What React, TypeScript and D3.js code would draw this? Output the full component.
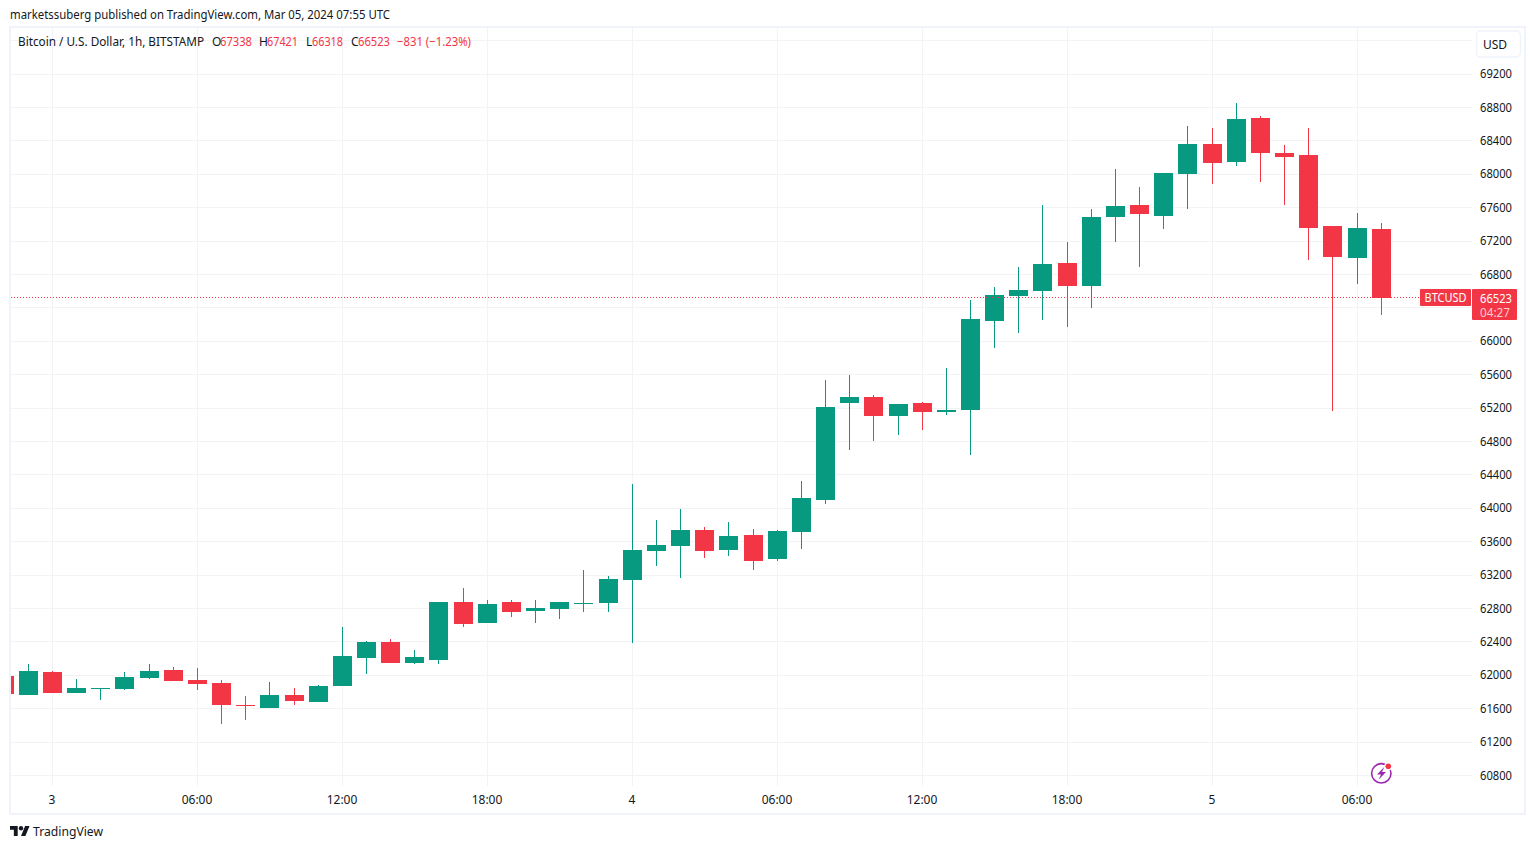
import React from "react";
import * as d3 from "d3";

// Hour index relative to 2024-03-03 00:00, one row per candle
const hours = d3.range(-2, 56);
const opens = [61990,61763,62038,61787,61835,61835,61967,62062,61942,61906,61643,61607,61763,61679,61870,62206,62398,62146,62182,62876,62625,62876,62768,62792,62852,62864,63140,63487,63547,63738,63499,63679,63391,63714,64098,65260,65332,65104,65260,65152,65176,66242,66541,66601,66936,66661,67487,67631,67499,68002,68362,68146,68673,68254,68230,67380,66996,67338];
const closes = [61775,62050,61787,61847,61847,61979,62050,61930,61894,61643,61631,61763,61691,61870,62230,62398,62146,62218,62876,62613,62852,62756,62804,62876,62864,63152,63499,63559,63738,63487,63667,63367,63726,64122,65212,65332,65104,65248,65152,65176,66266,66553,66613,66924,66661,67487,67619,67523,68014,68362,68134,68661,68254,68206,67356,67008,67356,66523];
const highs = [61990,62134,62050,61955,61847,62038,62134,62098,62086,61942,61751,61918,61847,61882,62577,62410,62434,62302,62876,63044,62900,62900,62900,62876,63260,63188,64290,63858,63990,63774,63834,63751,63738,64325,65535,65595,65356,65248,65272,65679,66493,66649,66889,67631,67188,67583,68062,67847,68014,68578,68554,68853,68697,68350,68554,67380,67536,67421];
const lows = [61775,61763,61787,61787,61703,61823,61955,61930,61823,61415,61463,61607,61643,61679,61870,62014,62146,62134,62134,62577,62625,62696,62625,62672,62756,62756,62385,63308,63164,63403,63427,63260,63367,63511,64050,64697,64805,64877,64937,65116,64637,65919,66098,66254,66170,66398,67188,66889,67344,67583,67883,68098,67906,67631,66972,65164,66685,66318];

const priceTicks = [69600,69200,68800,68400,68000,67600,67200,66800,66400,66000,65600,65200,64800,64400,64000,63600,63200,62800,62400,62000,61600,61200,60800];
const hiddenPriceLabels = [69600, 66400];
const timeHours = [0,6,12,18,24,30,36,42,48,54];
const timeLabels = ["3","06:00","12:00","18:00","4","06:00","12:00","18:00","5","06:00"];

const lastPrice = 66523;
const GREEN = "#089981";
const RED = "#F23645";
const INK = "#131722";
const GRID = "#f2f3f5";
const BORDER = "#f0f3fa";
const FONT = "'Noto Sans', sans-serif";

const W = 1534, H = 849;
const y = d3.scaleLinear().domain([60800, 69200]).range([775.5, 74]);
const x = d3.scaleLinear().domain([0, 1]).range([52.405, 76.565]);
const px = (h: number) => Math.floor(x(h));
const py = (p: number) => Math.round(y(p));

const T = (p: any) => <text fontFamily={FONT} fontSize={12} fill={INK} lengthAdjust="spacingAndGlyphs" {...p} />;

export default function App() {
  return (
    <svg width={W} height={H} viewBox={`0 0 ${W} ${H}`} style={{ position: "absolute", left: 0, top: 0, background: "#fff", display: "block" }}>
      <defs>
        <clipPath id="pane"><rect x={11} y={28} width={1461} height={758} /></clipPath>
      </defs>

      <T x={10} y={19} textLength={380}>marketssuberg published on TradingView.com, Mar 05, 2024 07:55 UTC</T>

      <g shapeRendering="crispEdges">
        {priceTicks.map((p) => (
          <rect key={p} x={11} y={Math.floor(y(p))} width={1461} height={1} fill={GRID} />
        ))}
        {timeHours.map((h) => (
          <rect key={h} x={px(h)} y={28} width={1} height={758} fill={GRID} />
        ))}
      </g>

      <g clipPath="url(#pane)" shapeRendering="crispEdges">
        {hours.map((h, i) => {
          const up = closes[i] >= opens[i];
          const c = up ? GREEN : RED;
          const top = py(Math.max(opens[i], closes[i]));
          const bot = py(Math.min(opens[i], closes[i]));
          const hi = py(highs[i]);
          const lo = py(lows[i]);
          return (
            <g key={h} fill={c}>
              <rect x={px(h)} y={hi} width={1} height={Math.max(lo - hi, 1)} />
              <rect x={px(h) - 9} y={top} width={19} height={Math.max(bot - top, 1)} />
            </g>
          );
        })}
      </g>

      <line x1={11} x2={1420} y1={Math.floor(y(lastPrice)) + 0.5} y2={Math.floor(y(lastPrice)) + 0.5} stroke={RED} strokeWidth={1} strokeDasharray="1 2" />

      <rect x={10} y={27} width={1515} height={787} fill="none" stroke={BORDER} strokeWidth={2} />

      <T x={18} y={46} textLength={186}>Bitcoin / U.S. Dollar, 1h, BITSTAMP</T>
      <T x={212} y={46}>O</T>
      <T x={220} y={46} fill={RED} textLength={32}>67338</T>
      <T x={259} y={46}>H</T>
      <T x={267} y={46} fill={RED} textLength={31}>67421</T>
      <T x={306} y={46}>L</T>
      <T x={312} y={46} fill={RED} textLength={31}>66318</T>
      <T x={351} y={46}>C</T>
      <T x={358} y={46} fill={RED} textLength={32}>66523</T>
      <T x={397} y={46} fill={RED} textLength={74}>−831 (−1.23%)</T>

      <rect x={1476.5} y={31} width={44} height={26} rx={4} fill="#fff" stroke={BORDER} strokeWidth={1.5} />
      <T x={1495} y={49} textAnchor="middle" fontSize={12}>USD</T>

      {priceTicks.filter((p) => !hiddenPriceLabels.includes(p)).map((p) => (
        <T key={p} x={1480} y={y(p) + 4.2} textLength={32}>{p}</T>
      ))}

      {timeHours.map((h, i) => (
        <T key={h} x={px(h)} y={804} textAnchor="middle">{timeLabels[i]}</T>
      ))}

      <rect x={1420} y={289} width={51} height={17} rx={1} fill={RED} />
      <T x={1445.5} y={302} textAnchor="middle" fill="#fff" textLength={42}>BTCUSD</T>
      <rect x={1472} y={289} width={45} height={31} rx={1} fill={RED} />
      <T x={1480} y={303} fill="#fff" textLength={32}>{lastPrice}</T>
      <T x={1480} y={317} fill="#fff" fillOpacity={0.75} textLength={30}>04:27</T>

      <g>
        <circle cx={1381.3} cy={773.3} r={9.7} fill="#fff" stroke="#9C27B0" strokeWidth={1.6} />
        <path d="M1384.5 766.8 L1377 774.5 L1381 774.5 L1378.5 779.8 L1386 772 L1382 772 Z" fill="#9C27B0" />
        <circle cx={1388.3} cy={766.3} r={4} fill="#fff" />
        <circle cx={1388.3} cy={766.3} r={2.8} fill={RED} />
      </g>

      <g transform="translate(10,823.8) scale(0.55)" fill={INK}>
        <path d="M14 22H7V11H0V4h14v18zM28 22h-8l7.5-18h8L28 22z" />
        <circle cx={20} cy={8} r={4} />
      </g>
      <T x={33} y={836} fontSize={13} textLength={70}>TradingView</T>
    </svg>
  );
}
